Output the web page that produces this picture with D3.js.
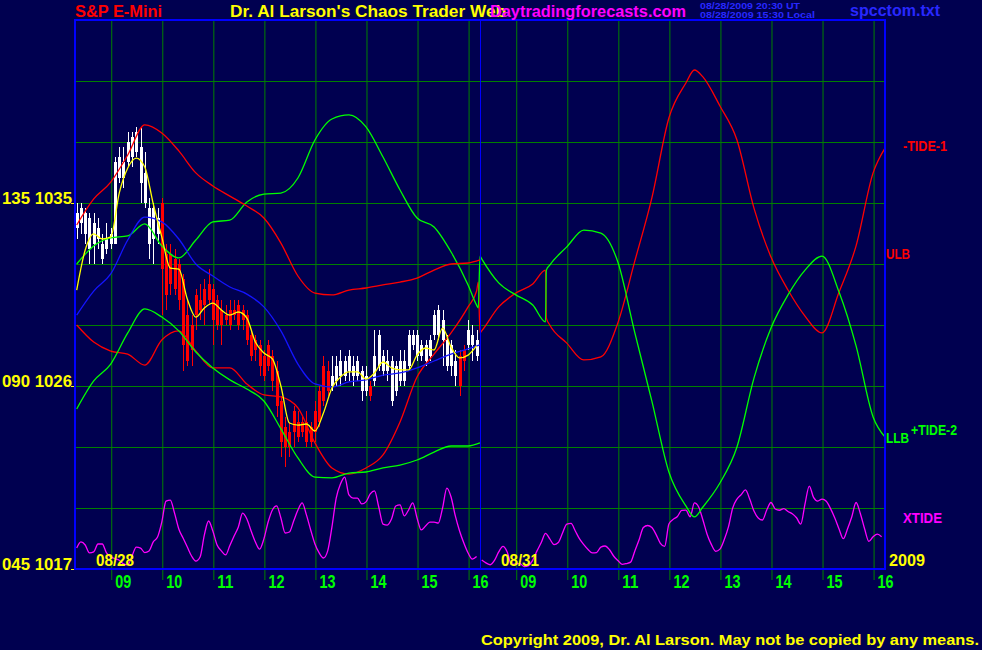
<!DOCTYPE html>
<html><head><meta charset="utf-8">
<script src="https://cdn.jsdelivr.net/npm/d3@7"></script>
<style>
html,body{margin:0;padding:0;background:#000050;}
svg{display:block;}
text{font-family:"Liberation Sans",Arial,sans-serif;}
</style></head><body>
<svg id="c" width="982" height="650"></svg>
<script>
// ---------------- DATA ----------------
const days = ["08/28", "08/31"];
const sessionOpen = "08:18", sessionClose = "16:14";
const hourTicks = ["09","10","11","12","13","14","15","16"];
const priceTicks = [1017, 1026, 1035];
const tideTickLabels = ["045", "090", "135"];
const gridPrices = [1020, 1023, 1026, 1029, 1032, 1035, 1038, 1041];
const priceMin = 1017, priceMax = 1044;
const yearLabel = "2009";

// 5-minute OHLC bars for 08/28, starting 08:20
const barStart = "08:20", barStep = 5;
const bars = [
[1033.75,1035,1033.25,1034.5],[1034,1035,1033.5,1034.75],[1033.5,1034.75,1033,1034.5],[1032.75,1034.5,1032,1034.25],
[1033,1034.5,1032,1034],[1033.25,1034.25,1032.75,1033.75],[1032.25,1033.5,1032,1033],[1032.75,1034,1032.5,1033.25],
[1033,1033.75,1032.75,1033.5],[1033,1037.25,1033,1037],[1036.25,1037.75,1036,1037.25],[1036.25,1037.75,1035.75,1037],
[1037,1038.5,1036.75,1038],[1037.25,1038.5,1036.75,1038.25],[1037.5,1038.75,1037.25,1038.5],[1036,1038.75,1035,1037.75],
[1035,1037.5,1034.75,1036.5],[1033,1035.25,1032.25,1034.75],[1033.25,1035,1032,1034.75],[1033.5,1034.75,1033,1034.25],
[1035,1035.25,1029.5,1031.75],[1032.5,1033,1029.75,1030.5],[1032.5,1033,1030.5,1031],[1032.25,1032.75,1030.5,1030.75],
[1032,1032.25,1029.75,1030.25],[1031.25,1031.5,1026.75,1028],[1029.5,1030.25,1027,1027.25],[1029,1029.5,1027,1027.75],
[1030.5,1030.75,1028.75,1029.5],[1030.25,1031,1029.25,1029.75],[1030.75,1031.25,1029,1030],[1031,1031.75,1030,1030.25],
[1030.75,1031,1028,1029.25],[1030.25,1030.5,1028.75,1029],[1029.75,1030.25,1028,1029],[1029.5,1030,1029,1029.25],
[1029.75,1030.25,1028.75,1029],[1029.75,1030.25,1029.25,1029.5],[1030,1030.25,1028.75,1029],[1029.75,1030,1028.75,1029.25],
[1029.5,1029.75,1028,1028.25],[1028.5,1028.75,1027.25,1027.5],[1028.25,1028.5,1027.25,1027.75],[1028,1028.25,1026.5,1027],
[1027.5,1027.75,1026.25,1026.5],[1028,1028.25,1026.75,1027],[1027.5,1027.75,1025.75,1026.25],[1026.75,1027.25,1024.5,1025],
[1025.25,1025.5,1022.5,1023.25],[1024,1024.5,1022,1023],[1023.75,1024.25,1022.5,1023],[1024.75,1025,1023,1023.75],
[1024.25,1024.75,1023.25,1023.5],[1024.25,1024.5,1023.5,1023.75],[1024.25,1024.75,1023,1023.25],[1024,1024.25,1023,1023.25],
[1024.75,1025.25,1023.25,1023.75],[1025.75,1026,1024,1024.25],[1027,1027.5,1025,1025.25],[1026.75,1027.25,1025.5,1025.75],
[1026,1027.5,1025.75,1026.5],[1026.25,1027.5,1026,1027],[1026.5,1027.75,1026,1027.25],[1026.5,1027.5,1026.25,1027.25],
[1026.75,1027.75,1026.25,1027.5],[1026.5,1027.5,1026,1027],[1026.5,1027.5,1026.25,1027.25],[1025.75,1027,1025.25,1026.75],
[1025.75,1027,1025.5,1026.5],[1026,1026.25,1025.25,1025.5],[1026.25,1028.75,1026,1027.5],[1027,1028.75,1026.75,1028.5],
[1026.75,1027.75,1026.5,1027.5],[1026.75,1027.75,1026.25,1027.25],[1025.25,1027.5,1025,1027.25],[1025.75,1027.25,1025.5,1027],
[1026.25,1027.75,1026,1027.25],[1026.25,1027.75,1026,1027.25],[1027,1028.75,1026.75,1028.5],[1028,1028.75,1027.75,1028.5],
[1027.5,1028.75,1027.25,1028.5],[1027.5,1028.25,1027.25,1028],[1027.25,1028.25,1027,1028],[1027.5,1028.5,1027.25,1028.25],
[1028.5,1029.75,1028.25,1029.5],[1028.5,1030,1028.25,1029.75],[1028.25,1029.75,1027,1029.25],[1027,1028.5,1026.75,1028.25],
[1027,1028.25,1026.5,1028],[1026.5,1027.75,1026,1027.25],[1027.5,1027.75,1025.5,1026],[1027.75,1028,1026.75,1027.25],
[1028,1029.25,1027.75,1028.75],[1028,1029,1027.25,1028.5],[1027.5,1028.75,1027.25,1028.25]
];

// fast average (yellow), 10-minute samples from 08:20 on 08/28
const fastStart = "08:20", fastStep = 10;
const fastAvg = [1030.72,1032.69,1033.48,1033.23,1033.33,1035.49,1036.72,1037.21,1036.77,1034.95,1033.33,1031.80,
1031.75,1030.28,1029.39,1029.84,1030.08,1029.74,1029.49,1029.64,1029.34,1028.16,1027.62,1027.33,
1026.00,1024.18,1024.08,1024.13,1023.79,1024.67,1025.90,1026.44,1026.69,1026.69,1026.34,1026.64,
1027.18,1026.89,1026.79,1026.79,1027.52,1027.87,1027.77,1028.85,1027.92,1027.38,1027.52,1027.97];

// 20-minute samples on 08/28: slow average (blue) and the two bands
const bandTimes = ["08:20","08:40","09:00","09:20","09:40","10:00","10:20","10:40","11:00","11:20","11:40","12:00",
"12:20","12:40","13:00","13:20","13:40","14:00","14:20","14:40","15:00","15:20","15:40","16:00","16:14"];
const slowAvg = [1029.49,1030.67,1031.51,1033.18,1034.31,1034.07,1033.23,1032.00,1031.41,1030.87,1030.52,1029.89,
1028.71,1027.08,1026.10,1025.95,1026.20,1026.30,1026.54,1026.64,1026.89,1027.23,1027.57,1027.82,1028.02];
const ulb = [1033.92,1035.20,1036.03,1037.36,1038.84,1038.44,1037.56,1036.48,1035.84,1035.34,1034.85,1034.26,
1033.03,1031.41,1030.57,1030.48,1030.72,1030.82,1030.97,1031.11,1031.31,1031.70,1032.00,1032.05,1032.20];
const llb = [1024.87,1026.25,1027.08,1028.61,1029.79,1029.39,1028.71,1027.67,1026.89,1026.30,1025.85,1025.26,
1023.89,1022.46,1021.52,1021.48,1021.72,1021.77,1021.97,1022.11,1022.36,1022.75,1023.05,1023.05,1023.20];

// tide forecasts across both sessions
const tideTimes = [
"08/28 08:20","08/28 08:40","08/28 09:00","08/28 09:20","08/28 09:40","08/28 10:00","08/28 10:20","08/28 10:40",
"08/28 11:00","08/28 11:20","08/28 11:40","08/28 12:00","08/28 12:20","08/28 12:40","08/28 13:00","08/28 13:20",
"08/28 13:40","08/28 14:00","08/28 14:20","08/28 14:40","08/28 15:00","08/28 15:20","08/28 15:40","08/28 16:00",
"08/28 16:10","08/28 16:12","08/28 16:14",
"08/31 08:20","08/31 08:40","08/31 09:00","08/31 09:20","08/31 09:35","08/31 09:36","08/31 09:40","08/31 10:00",
"08/31 10:20","08/31 10:40","08/31 11:00","08/31 11:20","08/31 11:40","08/31 12:00","08/31 12:20","08/31 12:30",
"08/31 12:40","08/31 13:00","08/31 13:20","08/31 13:40","08/31 14:00","08/31 14:20","08/31 14:40","08/31 15:00",
"08/31 15:20","08/31 15:40","08/31 16:00","08/31 16:14"];
const tide1 = [1029.00,1028.16,1027.72,1027.57,1027.03,1028.26,1028.71,1027.72,1026.89,1026.89,1026.10,1025.56,
1025.46,1024.92,1023.20,1021.97,1021.67,1021.97,1022.61,1024.23,1026.44,1027.57,1028.61,1029.89,1030.67,1031.11,1028.61,
1028.71,1029.89,1030.57,1031.02,1031.70,1029.34,1029.00,1028.11,1027.28,1027.43,1029.10,1032.15,1035.25,1039.18,
1040.90,1041.54,1041.20,1039.77,1038.10,1034.75,1032.34,1030.72,1029.44,1028.61,1030.62,1032.89,1036.48,1037.70];
const tide2 = [1032.00,1032.89,1033.28,1033.38,1033.97,1032.89,1032.30,1033.18,1034.07,1034.16,1035.05,1035.44,
1035.49,1036.23,1038.10,1039.13,1039.33,1038.74,1037.26,1035.64,1034.26,1033.82,1032.59,1030.97,1029.98,1029.84,1032.39,
1032.25,1031.07,1030.48,1029.98,1029.15,1031.70,1031.95,1032.84,1033.67,1033.52,1032.10,1028.61,1025.26,1021.77,
1020.10,1019.56,1020.05,1021.23,1023.00,1026.39,1028.85,1030.48,1031.70,1032.39,1030.62,1027.97,1024.48,1023.49];

// XTIDE, 5-minute samples from 08:20 each session
const xtideStart = "08:20", xtideStep = 5;
const xtide0828 = [1018.03,1018.33,1018.18,1017.79,1017.84,1018.23,1018.23,1017.79,1017.59,1017.51,1017.43,1017.25,
1017.20,1017.64,1018.08,1018.03,1017.81,1017.89,1018.33,1018.57,1019.31,1020.34,1020.39,1019.75,1018.97,1018.52,
1018.08,1017.64,1017.39,1017.59,1018.67,1019.36,1018.87,1018.18,1017.89,1017.69,1018.16,1018.62,1019.07,1019.75,
1019.46,1018.87,1018.33,1017.98,1018.48,1019.31,1019.90,1020.10,1019.51,1018.77,1018.82,1019.36,1019.90,1020.25,
1019.66,1018.92,1018.23,1017.79,1017.54,1017.89,1019.07,1020.49,1021.18,1021.52,1020.64,1020.49,1020.49,1020.20,
1020.30,1020.69,1020.84,1020.05,1019.21,1019.16,1019.46,1020.10,1020.15,1019.61,1019.90,1020.25,1019.51,1018.92,
1019.11,1019.31,1019.31,1019.26,1020.00,1020.98,1020.54,1019.61,1018.87,1018.28,1017.79,1017.49,1017.61];
const xtide0831 = [1017.44,1017.30,1017.21,1017.42,1017.84,1018.11,1017.84,1017.22,1017.25,1017.26,1017.12,1017.17,
1017.44,1017.89,1018.30,1018.75,1018.48,1018.20,1018.30,1018.77,1019.21,1019.24,1018.87,1018.48,1018.20,1017.96,
1017.79,1017.81,1018.08,1018.13,1017.96,1017.64,1017.42,1017.23,1017.27,1017.34,1017.89,1018.44,1019.04,1019.14,
1019.04,1018.69,1018.26,1018.11,1019.21,1019.44,1019.58,1019.88,1019.90,1019.57,1020.25,1020.05,1019.41,1018.70,
1018.20,1017.87,1017.98,1018.44,1019.07,1020.00,1020.44,1020.66,1020.89,1020.44,1019.85,1019.51,1019.41,1019.90,
1020.27,1019.95,1019.89,1019.97,1019.83,1019.72,1019.52,1019.21,1020.20,1021.08,1020.52,1020.34,1020.44,1020.33,
1019.97,1019.51,1018.97,1018.49,1018.98,1019.57,1020.27,1019.73,1018.98,1018.36,1018.59,1018.72,1018.59];

// ---------------- DRAW ----------------
const C = {bg:"#000050", grid:"#008000", border:"#0000ff", white:"#ffffff", red:"#ff0000",
  yellow:"#ffff00", blue:"#1414ff", green:"#00ff00", magenta:"#ff00ff", hdrBlue:"#2828ff"};
const svg = d3.select("#c");
svg.append("rect").attr("width",982).attr("height",650).attr("fill",C.bg);

const toMin = s => { const [h,m] = s.split(":").map(Number); return h*60+m; };
const openMin = toMin(sessionOpen), sessionLen = toMin(sessionClose) - openMin;
const sessT = (dayIdx, minutes) => dayIdx*sessionLen + minutes - openMin;
const stepT = (dayIdx, start, step, n) => d3.range(n).map(i => sessT(dayIdx, toMin(start) + i*step));

const L = 75, R = 885, T = 20, B = 569;
const x = d3.scaleLinear().domain([0, days.length*sessionLen]).range([L, R]);
const y = d3.scaleLinear().domain([priceMin, priceMax]).range([B, T]);

// grid
const g = svg.append("g");
g.selectAll(".hg").data(gridPrices).join("line")
  .attr("x1",L).attr("x2",R).attr("y1",d=>Math.round(y(d))+0.5).attr("y2",d=>Math.round(y(d))+0.5)
  .attr("stroke",C.grid).attr("stroke-width",1);
const hourT = [];
days.forEach((d,di)=> hourTicks.forEach(h => hourT.push({t: sessT(di, toMin(h+":00")), label: h})));

// bottom axis (hours)
const xAxis = d3.axisBottom(x).tickValues(hourT.map(d=>d.t)).tickFormat((d,i)=>hourT[i].label).tickSize(11).tickSizeOuter(0);
const ax = svg.append("g").attr("transform",`translate(0.5,${B})`).call(xAxis);
ax.select(".domain").remove();
ax.selectAll(".tick line").attr("stroke",C.grid).attr("y1",-(B-T)).attr("y2",11);
ax.selectAll(".tick text").attr("fill",C.green).attr("text-anchor","start").attr("x",3.5).attr("y",19).attr("dy",0)
  .style("font-size","18px").style("font-weight","bold").attr("textLength",16).attr("lengthAdjust","spacingAndGlyphs");

// left axis (tide angle + price)
const yAxis = d3.axisLeft(y).tickValues(priceTicks).tickFormat((d,i)=>tideTickLabels[i]+" "+d).tickSize(4).tickSizeOuter(0);
const ay = svg.append("g").attr("transform",`translate(${L},0)`).call(yAxis);
ay.select(".domain").remove();
ay.selectAll(".tick line").attr("stroke",C.yellow);
ay.selectAll(".tick text").attr("fill",C.yellow).attr("x",-3).attr("dy",0).attr("y",0)
  .style("font-size","17px").style("font-weight","bold").attr("textLength",70).attr("lengthAdjust","spacingAndGlyphs");

// bars
const barT = stepT(0, barStart, barStep, bars.length);
const bg = svg.append("g").attr("shape-rendering","crispEdges");
bars.forEach((b,i)=>{
  const [o,h,l,c] = b, xc = Math.round(x(barT[i]));
  const col = c >= o ? C.white : C.red;
  bg.append("line").attr("x1",xc+0.5).attr("x2",xc+0.5).attr("y1",y(h)).attr("y2",y(l)).attr("stroke",col).attr("stroke-width",1);
  const top = y(Math.max(o,c)), bot = y(Math.min(o,c));
  bg.append("rect").attr("x",xc-1).attr("width",3).attr("y",top).attr("height",Math.max(1,bot-top)).attr("fill",col);
});

// lines
const lineGen = d3.line().x(d=>x(d[0])).y(d=>y(d[1])).curve(d3.curveMonotoneX);
function series(ts, vals, color, w){
  svg.append("path").datum(ts.map((t,i)=>[t,vals[i]])).attr("d",lineGen)
    .attr("fill","none").attr("stroke",color).attr("stroke-width",w||1.3).attr("stroke-linejoin","round");
}
const tideT = tideTimes.map(s => { const [d,hm] = s.split(" "); return sessT(days.indexOf(d), toMin(hm)); });
const bandT = bandTimes.map(hm => sessT(0, toMin(hm)));
series(stepT(0, xtideStart, xtideStep, xtide0828.length), xtide0828, C.magenta);
series(stepT(1, xtideStart, xtideStep, xtide0831.length), xtide0831, C.magenta);
series(tideT, tide1, C.red);
series(tideT, tide2, C.green);
series(bandT, ulb, C.red);
series(bandT, llb, C.green);
series(bandT, slowAvg, C.blue);
series(stepT(0, fastStart, fastStep, fastAvg.length), fastAvg, C.yellow);

// day separator and border
svg.append("line").attr("x1",x(sessionLen)+0.5).attr("x2",x(sessionLen)+0.5).attr("y1",T).attr("y2",B)
  .attr("stroke",C.border).attr("stroke-width",1);
svg.append("rect").attr("x",L).attr("y",T).attr("width",R-L).attr("height",B-T)
  .attr("fill","none").attr("stroke",C.border).attr("stroke-width",2);

// texts
function txt(s, tx, ty, color, size, len, weight){
  const t = svg.append("text").attr("x",tx).attr("y",ty).attr("fill",color).style("font-size",size+"px").text(s);
  if (len) t.attr("textLength",len).attr("lengthAdjust","spacingAndGlyphs");
  if (weight) t.style("font-weight",weight);
  return t;
}
txt("S&P E-Mini", 75, 17, C.red, 16, 87, "bold");
txt("Dr. Al Larson's Chaos Trader Web", 230, 17, C.yellow, 16, 276, "bold");
txt("Daytradingforecasts.com", 490, 17, C.magenta, 16, 196, "bold");
txt("08/28/2009 20:30 UT", 700, 9, C.hdrBlue, 8.5, 100, "bold");
txt("08/28/2009 15:30 Local", 700, 18, C.hdrBlue, 8.5, 115, "bold");
txt("spcctom.txt", 850, 16, C.hdrBlue, 17, 90, "bold");
txt("Copyright 2009, Dr. Al Larson. May not be copied by any means.", 481, 645, C.yellow, 15, 498, "bold");
txt(days[0], 96, 566, C.yellow, 17, 38, "bold");
txt(days[1], 501, 566, C.yellow, 17, 38, "bold");
txt(yearLabel, 889, 566, C.yellow, 17, 36, "bold");
txt("-TIDE-1", 903, 151, C.red, 14, 44, "bold");
txt("ULB", 886, 259, C.red, 14, 24, "bold");
txt("+TIDE-2", 911, 435, C.green, 14, 46, "bold");
txt("LLB", 886, 443, C.green, 14, 23, "bold");
txt("XTIDE", 903, 523, C.magenta, 14, 39, "bold");
</script>
</body></html>
